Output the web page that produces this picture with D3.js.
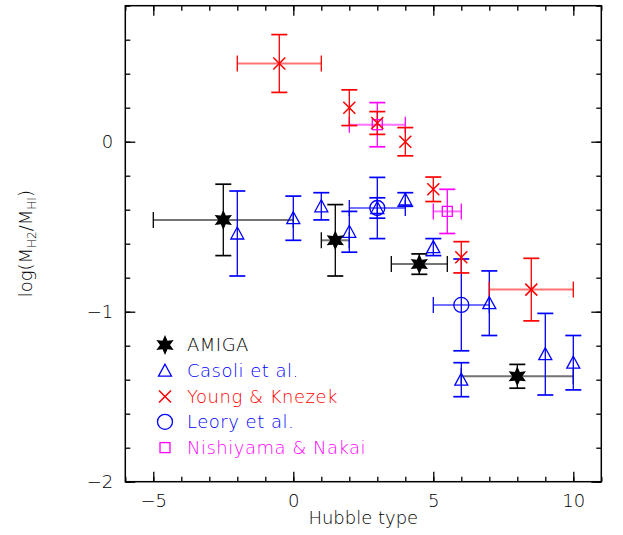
<!DOCTYPE html>
<html>
<head>
<meta charset="utf-8">
<script src="https://cdn.jsdelivr.net/npm/d3@7"></script>
<style>
  body { margin: 0; background: #fff; }
  text { font-family: "DejaVu Sans", sans-serif; font-weight: 200; }
</style>
</head>
<body>
<svg id="chart" width="623" height="535"></svg>
<script>
// Molecular-to-atomic gas mass ratio versus morphological (Hubble) type.
// AMIGA isolated galaxies
const amigaType    = [-2.5, 1.5, 4.5, 8];
const amigaTypeErr = [2.5, 0.5, 1, 2];
const amigaRatio   = [-0.46, -0.58, -0.72, -1.38];
const amigaErr     = [0.21, 0.21, 0.06, 0.07];

// Casoli et al.
const casoliType  = [-2, 0, 1, 2, 3, 4, 5, 6, 7, 9, 10];
const casoliRatio = [-0.54, -0.45, -0.38, -0.53, -0.39, -0.34, -0.62, -1.40, -0.95, -1.25, -1.30];
const casoliErr   = [0.25, 0.13, 0.08, 0.12, 0.06, 0.04, 0.05, 0.10, 0.19, 0.24, 0.16];

// Young & Knezek
const youngType    = [-0.5, 2, 3, 4, 5, 6, 8.5];
const youngTypeErr = [1.5, 0, 0, 0, 0, 0, 1.5];
const youngRatio   = [0.46, 0.20, 0.11, 0.00, -0.28, -0.68, -0.87];
const youngErr     = [0.17, 0.105, 0.067, 0.083, 0.072, 0.092, 0.184];

// Leory et al.
const leoryType    = [3, 6];
const leoryTypeErr = [1, 1];
const leoryRatio   = [-0.39, -0.96];
const leoryErr     = [0.18, 0.27];

// Nishiyama & Nakai
const nishType    = [3, 5.5];
const nishTypeErr = [1, 0.5];
const nishRatio   = [0.10, -0.41];
const nishErr     = [0.13, 0.13];

// Axis ticks
const xMajor = [-5, 0, 5, 10];
const xMinor = d3.range(-6, 12);
const yMajor = [-2, -1, 0];
const yMinor = d3.range(-2, 0.81, 0.2).map(v => +v.toFixed(1));

const legendLabels = ["AMIGA", "Casoli et al.", "Young & Knezek", "Leory et al.", "Nishiyama & Nakai"];

const colBlack = "#000000", colBlue = "#0000ff", colRed = "#ff0000", colMag = "#ff00ff";

const series = [
  { name: "amiga",  t: amigaType,  te: amigaTypeErr, r: amigaRatio,  re: amigaErr,  color: colBlack, sym: "star" },
  { name: "casoli", t: casoliType, te: casoliType.map(() => 0), r: casoliRatio, re: casoliErr, color: colBlue, sym: "triangle" },
  { name: "leory",  t: leoryType,  te: leoryTypeErr, r: leoryRatio,  re: leoryErr,  color: colBlue, sym: "circle" },
  { name: "nish",   t: nishType,   te: nishTypeErr,  r: nishRatio,   re: nishErr,   color: colMag,  sym: "square" },
  { name: "young",  t: youngType,  te: youngTypeErr, r: youngRatio,  re: youngErr,  color: colRed,  sym: "cross" }
];

const svg = d3.select("#chart");
const plotL = 125.3, plotR = 601.3, plotT = 5.7, plotB = 481.7;
const x = d3.scaleLinear().domain([-6, 11]).range([plotL, plotR]);
const y = d3.scaleLinear().domain([-2, 0.8]).range([plotB, plotT]);

// Marker shapes
function starPath(ro, ri) {
  const pts = [];
  for (let i = 0; i < 12; i++) {
    const a = -Math.PI / 2 + i * Math.PI / 6;
    const r = i % 2 === 0 ? ro : ri;
    pts.push([r * Math.cos(a), r * Math.sin(a)]);
  }
  return "M" + pts.map(p => p.join(",")).join("L") + "Z";
}
function drawMarker(g, sym, color, cx, cy) {
  const m = g.append("g").attr("transform", `translate(${cx},${cy})`);
  if (sym === "star") {
    m.append("path").attr("d", starPath(10, 5)).attr("fill", color);
  } else if (sym === "triangle") {
    m.append("path").attr("d", "M0,-6.5L6.5,5.5L-6.5,5.5Z")
      .attr("fill", "none").attr("stroke", color).attr("stroke-width", 1.3);
  } else if (sym === "circle") {
    m.append("circle").attr("r", 7.5)
      .attr("fill", "none").attr("stroke", color).attr("stroke-width", 1.3);
  } else if (sym === "square") {
    m.append("rect").attr("x", -5).attr("y", -5).attr("width", 10).attr("height", 10)
      .attr("fill", "none").attr("stroke", color).attr("stroke-width", 1.3);
  } else if (sym === "cross") {
    m.append("path").attr("d", "M-6,-6L6,6M-6,6L6,-6")
      .attr("fill", "none").attr("stroke", color).attr("stroke-width", 1.5);
  }
}

// Error bars
const capHalf = 8;
const barLayer = svg.append("g");
series.forEach(s => {
  const g = barLayer.append("g").attr("class", "err-" + s.name);
  s.t.forEach((t, i) => {
    const cx = x(t), cy = y(s.r[i]);
    const y1 = y(s.r[i] + s.re[i]), y2 = y(s.r[i] - s.re[i]);
    g.append("line").attr("x1", cx).attr("x2", cx).attr("y1", y1).attr("y2", y2)
      .attr("stroke", s.color).attr("stroke-width", 1.3);
    [y1, y2].forEach(yy => g.append("line")
      .attr("x1", cx - capHalf).attr("x2", cx + capHalf).attr("y1", yy).attr("y2", yy)
      .attr("stroke", s.color).attr("stroke-width", 1.7));
    if (s.te[i] > 0) {
      const x1 = x(t - s.te[i]), x2 = x(t + s.te[i]);
      g.append("line").attr("x1", x1).attr("x2", x2).attr("y1", cy).attr("y2", cy)
        .attr("stroke", s.color).attr("stroke-width", 2).attr("stroke-opacity", 0.55);
      [x1, x2].forEach(xx => g.append("line")
        .attr("x1", xx).attr("x2", xx).attr("y1", cy - capHalf).attr("y2", cy + capHalf)
        .attr("stroke", s.color).attr("stroke-width", 1.3));
    }
  });
});

// Markers (isolated-galaxy sample on top)
const markLayer = svg.append("g");
[1, 2, 3, 4, 0].forEach(k => {
  const s = series[k];
  s.t.forEach((t, i) => drawMarker(markLayer, s.sym, s.color, x(t), y(s.r[i])));
});

// Frame and ticks on all four sides, pointing inward
function styleAxis(g) {
  g.select(".domain").remove();
  g.selectAll(".tick line").attr("stroke", "#000").attr("stroke-width", 1.3);
  g.selectAll("text").attr("font-size", 18).attr("fill", "#000")
    .attr("font-family", "DejaVu Sans, sans-serif");
}
const fmt = d3.format("d");
svg.append("g").attr("transform", `translate(0,${plotB})`)
  .call(d3.axisBottom(x).tickValues(xMinor).tickSize(-5).tickFormat(""))
  .call(styleAxis);
svg.append("g").attr("transform", `translate(0,${plotB})`)
  .call(d3.axisBottom(x).tickValues(xMajor).tickSize(-10).tickPadding(13).tickFormat(fmt))
  .call(styleAxis);
svg.append("g").attr("transform", `translate(0,${plotT})`)
  .call(d3.axisTop(x).tickValues(xMinor).tickSize(-5).tickFormat(""))
  .call(styleAxis);
svg.append("g").attr("transform", `translate(0,${plotT})`)
  .call(d3.axisTop(x).tickValues(xMajor).tickSize(-10).tickFormat(""))
  .call(styleAxis);
svg.append("g").attr("transform", `translate(${plotL},0)`)
  .call(d3.axisLeft(y).tickValues(yMinor).tickSize(-5).tickFormat(""))
  .call(styleAxis);
svg.append("g").attr("transform", `translate(${plotL},0)`)
  .call(d3.axisLeft(y).tickValues(yMajor).tickSize(-10).tickPadding(12).tickFormat(fmt))
  .call(styleAxis);
svg.append("g").attr("transform", `translate(${plotR},0)`)
  .call(d3.axisRight(y).tickValues(yMinor).tickSize(-5).tickFormat(""))
  .call(styleAxis);
svg.append("g").attr("transform", `translate(${plotR},0)`)
  .call(d3.axisRight(y).tickValues(yMajor).tickSize(-10).tickFormat(""))
  .call(styleAxis);

svg.append("rect").attr("x", plotL).attr("y", plotT)
  .attr("width", plotR - plotL).attr("height", plotB - plotT)
  .attr("fill", "none").attr("stroke", "#000").attr("stroke-width", 1.5);

// Axis titles
svg.append("text").attr("x", (plotL + plotR) / 2).attr("y", 524)
  .attr("text-anchor", "middle").attr("font-size", 18).text("Hubble type");

const yt = svg.append("text").attr("transform", `translate(32,${(plotT + plotB) / 2}) rotate(-90)`)
  .attr("text-anchor", "middle").attr("font-size", 18);
yt.append("tspan").text("log(M");
yt.append("tspan").attr("font-size", 12).attr("dy", 4).text("H2");
yt.append("tspan").attr("dy", -4).text("/M");
yt.append("tspan").attr("font-size", 12).attr("dy", 4).text("HI");
yt.append("tspan").attr("dy", -4).text(")");

// Legend
const legendOrder = [0, 1, 4, 2, 3];
const legendY = [345, 370.7, 396.5, 421.8, 447.6];
const legend = svg.append("g");
legendOrder.forEach((k, j) => {
  const s = series[k];
  drawMarker(legend, s.sym, s.color, 165, legendY[j]);
  legend.append("text").attr("x", 187).attr("y", legendY[j]).attr("dy", "0.36em")
    .attr("font-size", 18).attr("letter-spacing", 0.5).attr("fill", s.color)
    .text(legendLabels[j]);
});
</script>
</body>
</html>
